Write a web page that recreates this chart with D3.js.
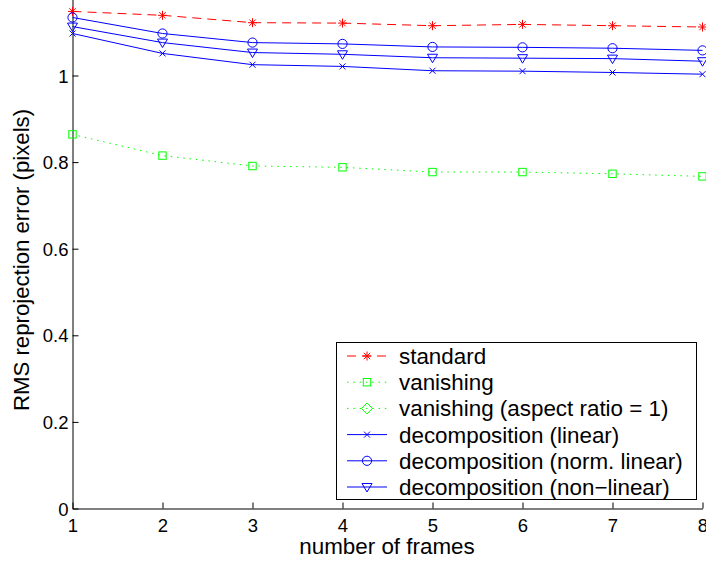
<!DOCTYPE html>
<html>
<head>
<meta charset="utf-8">
<script src="https://cdn.jsdelivr.net/npm/d3@7"></script>
<style>
  body { margin: 0; background: #fff; }
  text { font-family: "Liberation Sans", Arial, Helvetica, sans-serif; fill: #000; }
</style>
</head>
<body>
<div id="chart"></div>
<script>
// data
const frames = [1, 2, 3, 4, 5, 6, 7, 8];
const standard = [1.148, 1.139, 1.122, 1.121, 1.115, 1.118, 1.115, 1.112];
const vanishing = [0.864, 0.815, 0.791, 0.788, 0.777, 0.777, 0.773, 0.767];
const vanishingAspect = []; // only in the legend
const decompLinear = [1.097, 1.051, 1.025, 1.021, 1.011, 1.010, 1.007, 1.003];
const decompNorm = [1.134, 1.097, 1.076, 1.073, 1.066, 1.065, 1.063, 1.058];
const decompNonLinear = [1.113, 1.076, 1.053, 1.049, 1.041, 1.040, 1.039, 1.033];
const yTicks = [0, 0.2, 0.4, 0.6, 0.8, 1];

const series = [
  { name: 'standard', values: standard, color: '#ff0000', dash: '9,6', marker: 'star' },
  { name: 'vanishing', values: vanishing, color: '#00ff00', dash: '1.5,4.8', marker: 'square' },
  { name: 'vanishing (aspect ratio = 1)', values: vanishingAspect, color: '#00ff00', dash: '1.5,4.8', marker: 'diamond' },
  { name: 'decomposition (linear)', values: decompLinear, color: '#0000ff', dash: null, marker: 'x' },
  { name: 'decomposition (norm. linear)', values: decompNorm, color: '#0000ff', dash: null, marker: 'circle' },
  { name: 'decomposition (non\u2212linear)', values: decompNonLinear, color: '#0000ff', dash: null, marker: 'tri' }
];

const width = 706, height = 561;
const svg = d3.select('#chart').append('svg')
  .attr('width', width)
  .attr('height', height);

const x = d3.scaleLinear().domain([1, 8]).range([72.5, 702.5]);
const y = d3.scaleLinear().domain([0, 1.2]).range([508.5, -11.1]);

// axes (ticks point inwards like matlab)
const xAxis = d3.axisBottom(x).tickValues(frames).tickFormat(d3.format('d')).tickSizeInner(-6).tickSizeOuter(0).tickPadding(10);
const yAxis = d3.axisLeft(y).tickValues(yTicks).tickFormat(d => d === 0 ? '0' : d3.format('.1f')(d).replace(/\.0$/, ''))
  .tickSizeInner(-6).tickSizeOuter(0).tickPadding(4);

const gx = svg.append('g').attr('transform', `translate(0,${y(0)})`).call(xAxis);
const gy = svg.append('g').attr('transform', `translate(${x(1)},0)`).call(yAxis);
[gx, gy].forEach(g => {
  g.select('.domain').attr('stroke', '#000').attr('stroke-width', 1);
  g.selectAll('.tick line').attr('stroke', '#000');
  g.selectAll('.tick text').attr('font-size', 18.5).attr('fill', '#000')
    .style('font-family', '"Liberation Sans", Arial, sans-serif');
});
gy.selectAll('.tick text').attr('dy', '0.36em');
gx.selectAll('.tick text').attr('dy', '0.72em');

// axis titles
svg.append('text')
  .attr('x', 387).attr('y', 554)
  .attr('text-anchor', 'middle')
  .attr('font-size', 22.4)
  .text('number of frames');
svg.append('text')
  .attr('transform', 'translate(29,260) rotate(-90)')
  .attr('text-anchor', 'middle')
  .attr('font-size', 22.2)
  .text('RMS reprojection error (pixels)');

// marker drawing
function drawMarker(g, type, color) {
  const s = { fill: 'none', stroke: color, 'stroke-width': 1 };
  let m;
  if (type === 'star') {
    m = g.append('path').attr('d', 'M-4.5,0H4.5M0,-4.5V4.5M-3.2,-3.2L3.2,3.2M-3.2,3.2L3.2,-3.2');
  } else if (type === 'square') {
    m = g.append('rect').attr('x', -3.7).attr('y', -3.7).attr('width', 7.4).attr('height', 7.4);
  } else if (type === 'diamond') {
    m = g.append('path').attr('d', 'M0,-5.5L5.5,0L0,5.5L-5.5,0Z');
  } else if (type === 'x') {
    m = g.append('path').attr('d', 'M-3,-3L3,3M-3,3L3,-3');
  } else if (type === 'circle') {
    m = g.append('circle').attr('r', 4.6);
  } else {
    m = g.append('path').attr('d', 'M-5,-3.5H5L0,5Z');
  }
  Object.entries(s).forEach(([k, v]) => m.attr(k, v));
}

const line = d3.line()
  .x((d, i) => x(frames[i]))
  .y(d => y(d));

series.forEach(se => {
  if (!se.values.length) return;
  svg.append('path')
    .datum(se.values)
    .attr('d', line)
    .attr('fill', 'none')
    .attr('stroke', se.color)
    .attr('stroke-width', 1)
    .attr('stroke-dasharray', se.dash);
  se.values.forEach((v, i) => {
    const g = svg.append('g').attr('transform', `translate(${x(frames[i])},${y(v)})`);
    drawMarker(g, se.marker, se.color);
  });
});

// legend
const legend = svg.append('g');
legend.append('rect')
  .attr('x', 336.5).attr('y', 342.5)
  .attr('width', 360).attr('height', 157)
  .attr('fill', '#fff').attr('stroke', '#000').attr('stroke-width', 1);

series.forEach((se, i) => {
  const cy = 356 + i * 26.2;
  legend.append('line')
    .attr('x1', 347).attr('x2', 387)
    .attr('y1', cy).attr('y2', cy)
    .attr('stroke', se.color)
    .attr('stroke-width', 1)
    .attr('stroke-dasharray', se.dash);
  const g = legend.append('g').attr('transform', `translate(367,${cy})`);
  drawMarker(g, se.marker, se.color);
  legend.append('text')
    .attr('x', 399).attr('y', cy + 8)
    .attr('font-size', 22.4)
    .text(se.name);
});
</script>
</body>
</html>
